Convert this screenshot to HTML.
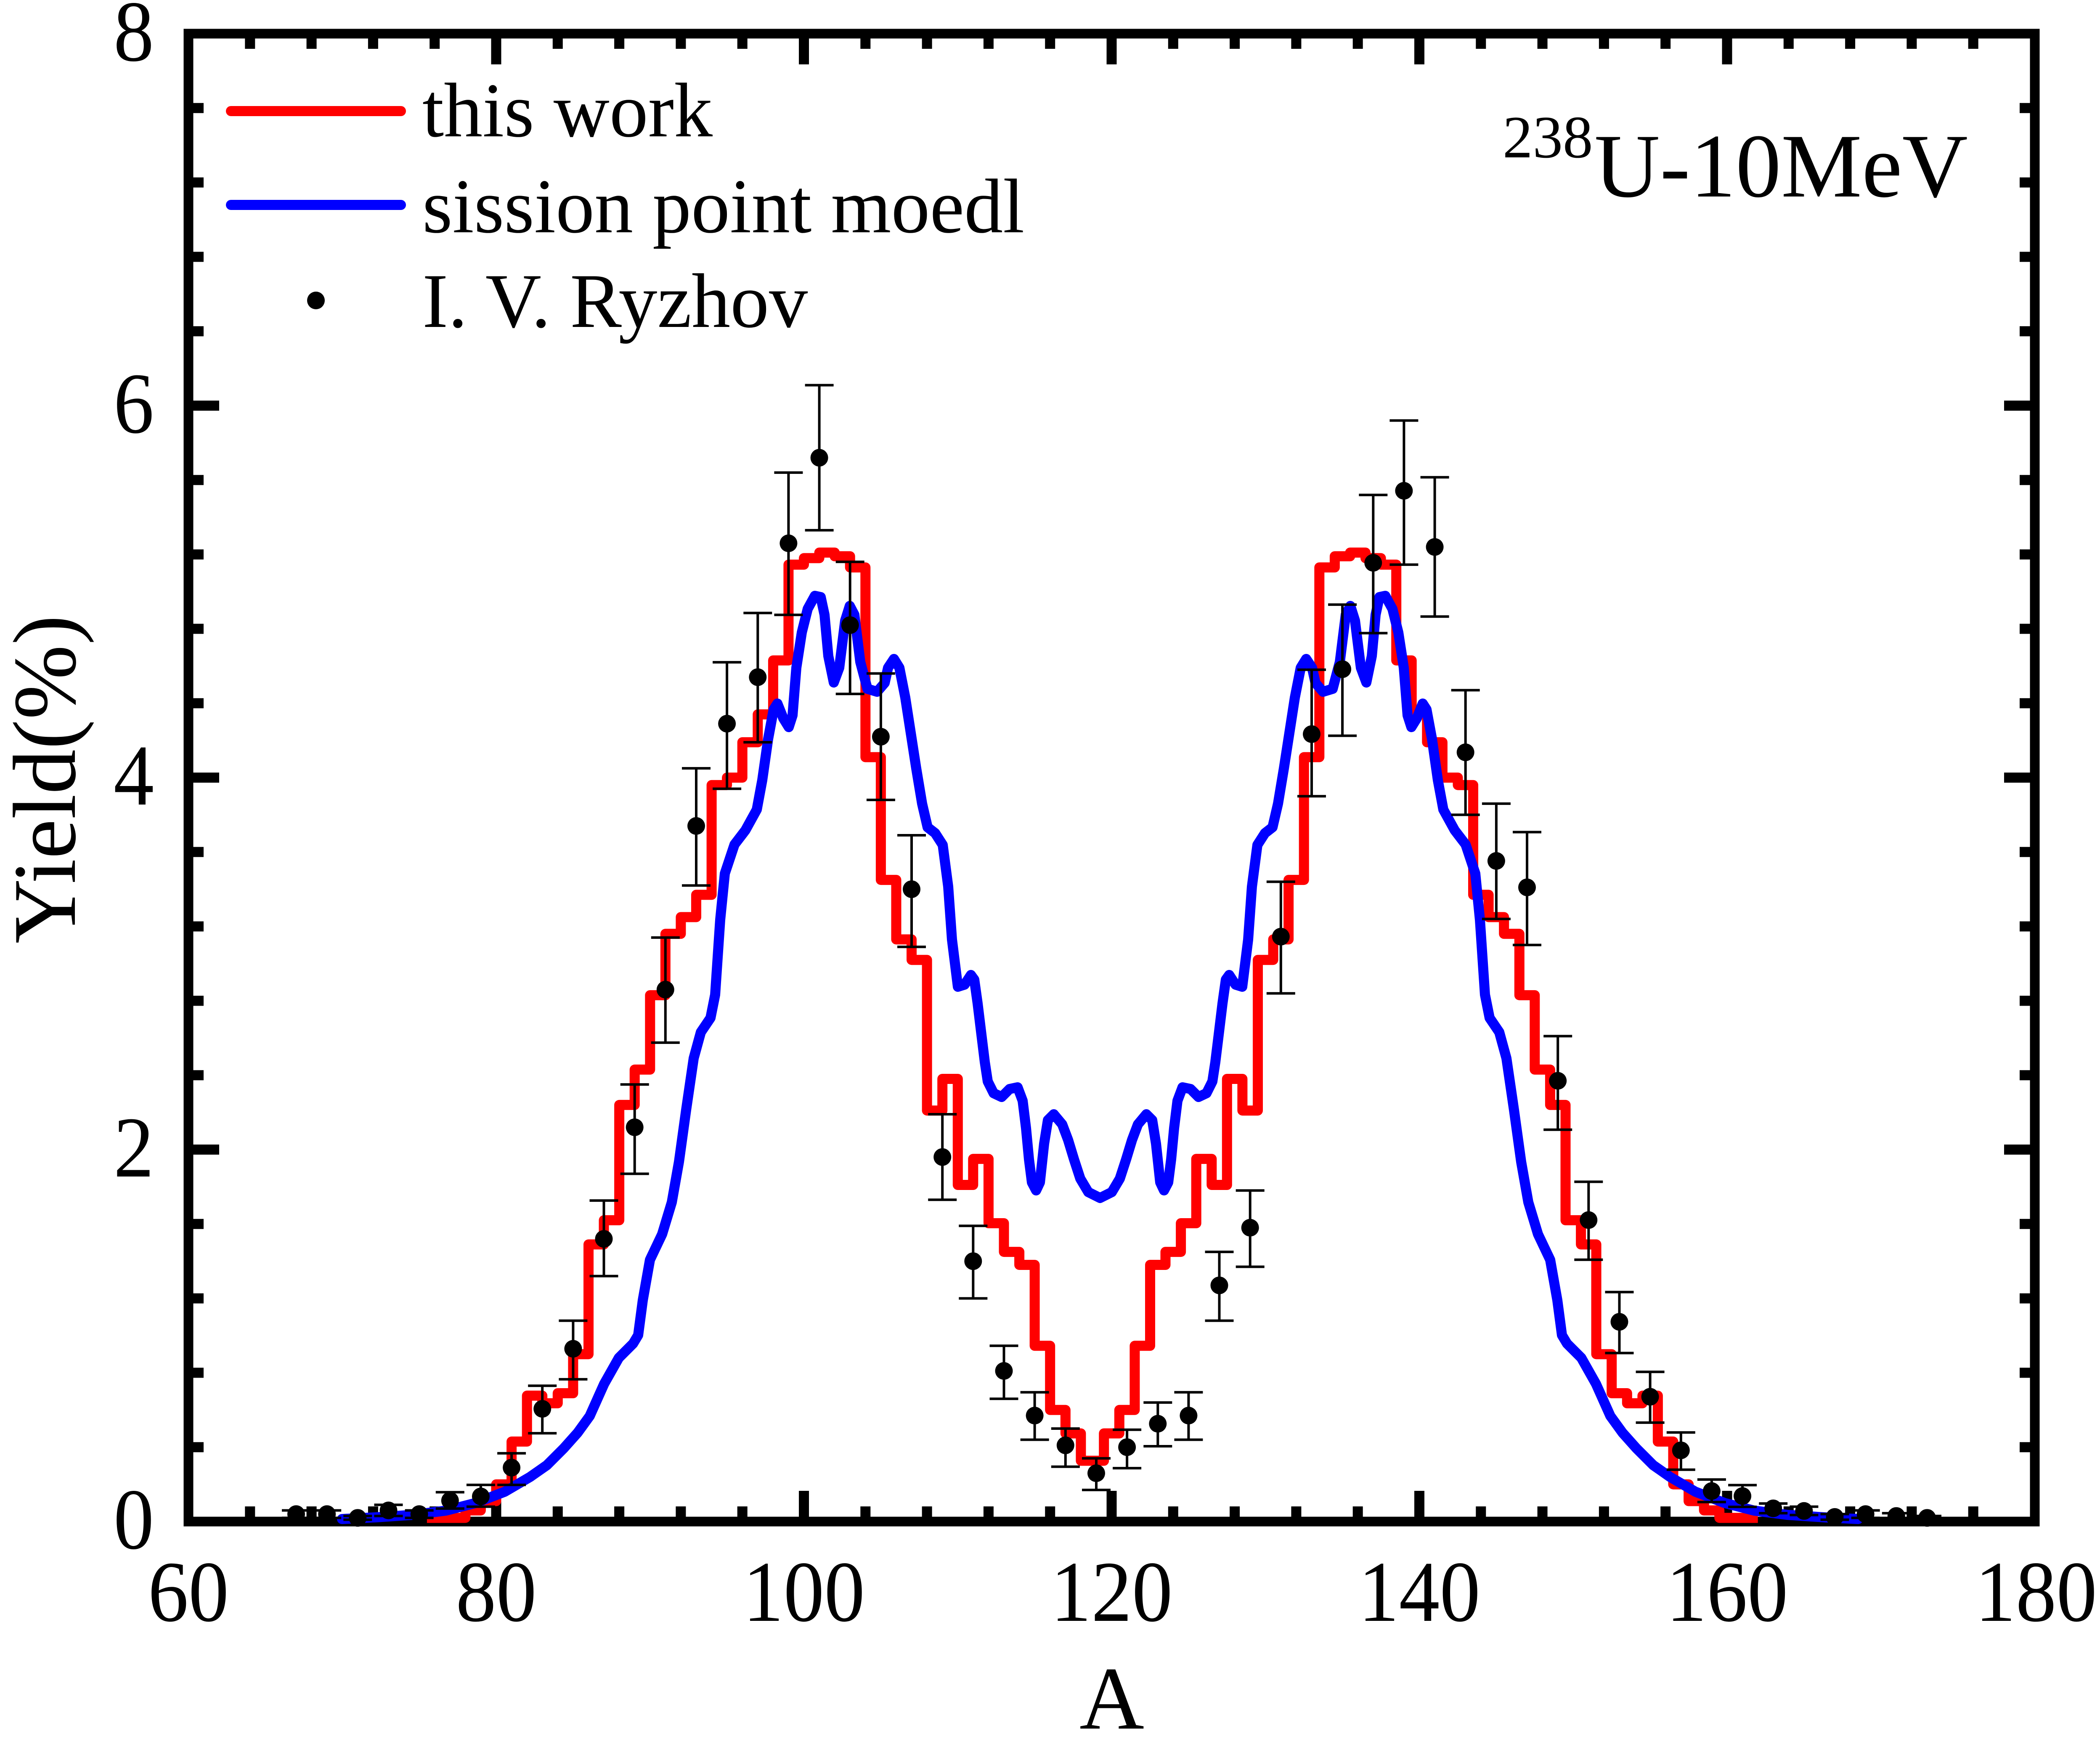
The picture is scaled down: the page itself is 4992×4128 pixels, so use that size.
<!DOCTYPE html>
<html>
<head>
<meta charset="utf-8">
<style>
  html, body { margin: 0; padding: 0; background: #ffffff; }
  svg { display: block; }
  text { font-family: "Liberation Serif", "Times New Roman", serif; fill: #000; }
</style>
</head>
<body>
<svg xmlns="http://www.w3.org/2000/svg" width="4992" height="4128" viewBox="0 0 4992 4128">
  <rect x="0" y="0" width="4992" height="4128" fill="#ffffff"/>

  <rect x="448" y="80" width="4389" height="3536" fill="none" stroke="#000" stroke-width="23"/>

  <path fill="none" stroke="#000" stroke-width="24" d="
    M594.3 3616V3580M740.6 3616V3580M886.9 3616V3580M1033.2 3616V3580M1325.8 3616V3580M1472.1 3616V3580M1618.4 3616V3580M1764.7 3616V3580
    M2057.3 3616V3580M2203.6 3616V3580M2349.9 3616V3580M2496.2 3616V3580M2788.8 3616V3580M2935.1 3616V3580M3081.4 3616V3580M3227.7 3616V3580
    M3520.3 3616V3580M3666.6 3616V3580M3812.9 3616V3580M3959.2 3616V3580M4251.8 3616V3580M4398.1 3616V3580M4544.4 3616V3580M4690.7 3616V3580
    M594.3 80V116M740.6 80V116M886.9 80V116M1033.2 80V116M1325.8 80V116M1472.1 80V116M1618.4 80V116M1764.7 80V116
    M2057.3 80V116M2203.6 80V116M2349.9 80V116M2496.2 80V116M2788.8 80V116M2935.1 80V116M3081.4 80V116M3227.7 80V116
    M3520.3 80V116M3666.6 80V116M3812.9 80V116M3959.2 80V116M4251.8 80V116M4398.1 80V116M4544.4 80V116M4690.7 80V116
    M1179.5 3616V3543M1911 3616V3543M2642.5 3616V3543M3374 3616V3543M4105.5 3616V3543
    M1179.5 80V153M1911 80V153M2642.5 80V153M3374 80V153M4105.5 80V153
    M448 3439.2H484M448 3262.4H484M448 3085.6H484M448 2908.8H484M448 2555.2H484M448 2378.4H484M448 2201.6H484M448 2024.8H484
    M448 1671.2H484M448 1494.4H484M448 1317.6H484M448 1140.8H484M448 787.2H484M448 610.4H484M448 433.6H484M448 256.8H484
    M4837 3439.2H4801M4837 3262.4H4801M4837 3085.6H4801M4837 2908.8H4801M4837 2555.2H4801M4837 2378.4H4801M4837 2201.6H4801M4837 2024.8H4801
    M4837 1671.2H4801M4837 1494.4H4801M4837 1317.6H4801M4837 1140.8H4801M4837 787.2H4801M4837 610.4H4801M4837 433.6H4801M4837 256.8H4801
    M448 2732H521M448 1848H521M448 964H521
    M4837 2732H4764M4837 1848H4764M4837 964H4764
  "/>

  <g font-size="206" text-anchor="end">
    <text x="366" y="3680" textLength="96" lengthAdjust="spacingAndGlyphs">0</text>
    <text x="366" y="2796" textLength="96" lengthAdjust="spacingAndGlyphs">2</text>
    <text x="366" y="1912" textLength="96" lengthAdjust="spacingAndGlyphs">4</text>
    <text x="366" y="1028" textLength="96" lengthAdjust="spacingAndGlyphs">6</text>
    <text x="366" y="144" textLength="96" lengthAdjust="spacingAndGlyphs">8</text>
  </g>

  <g font-size="206" text-anchor="middle">
    <text x="448" y="3852" textLength="192" lengthAdjust="spacingAndGlyphs">60</text>
    <text x="1179.5" y="3852" textLength="192" lengthAdjust="spacingAndGlyphs">80</text>
    <text x="1911" y="3852" textLength="290" lengthAdjust="spacingAndGlyphs">100</text>
    <text x="2642.5" y="3852" textLength="290" lengthAdjust="spacingAndGlyphs">120</text>
    <text x="3374" y="3852" textLength="290" lengthAdjust="spacingAndGlyphs">140</text>
    <text x="4105.5" y="3852" textLength="290" lengthAdjust="spacingAndGlyphs">160</text>
    <text x="4840" y="3852" textLength="290" lengthAdjust="spacingAndGlyphs">180</text>
  </g>

  <text x="2643" y="4108" font-size="213" text-anchor="middle">A</text>
  <text transform="translate(178,1852) rotate(-90)" font-size="213" text-anchor="middle">Yield(%)</text>

  <path fill="none" stroke="#ff0000" stroke-width="24" stroke-linejoin="round" d="
    M1014.9 3607.2H1106.4V3589.5H1142.9V3567.4H1179.5V3527.6H1216.1V3425.9H1252.7V3316.8H1289.2V3334.9H1325.8V3311H1362.4V3218.2
    H1399V2957.4H1435.5V2899.9H1472.1V2625.9H1508.7V2541.9H1545.3V2365.1H1581.8V2219.3H1618.4V2179.5H1655V2126.5H1691.6V1865.7
    H1728.1V1848H1764.7V1764H1801.3V1697.7H1837.9V1569.5H1874.4V1341.9H1911V1326.4H1947.6V1313.2H1984.2V1322H2020.7V1348.5
    H2057.3V1799.4H2093.9V2091.1H2130.5V2232.5H2167V2281.2H2203.6V2639.2H2240.2V2564H2276.8V2816H2313.3V2754.1H2349.9V2907
    H2386.5V2975.1H2423.1V3006H2459.6V3198.3H2496.2V3350.8H2532.8V3406.5H2569.4V3471.5H2624.2
    V3406.5H2660.8V3350.8H2697.4V3198.3H2734V3006H2770.5V2975.1H2807.1V2907H2843.7V2754.1H2880.3V2816H2916.8V2564H2953.4V2639.2
    H2990V2281.2H3026.6V2232.5H3063.1V2091.1H3099.7V1799.4H3136.3V1348.5H3172.9V1322H3209.4V1313.2H3246V1326.4H3282.6V1341.9
    H3319.2V1569.5H3355.7V1697.7H3392.3V1764H3428.9V1848H3465.5V1865.7H3502V2126.5H3538.6V2179.5H3575.2V2219.3H3611.8V2365.1
    H3648.3V2541.9H3684.9V2625.9H3721.5V2899.9H3758.1V2957.4H3794.6V3218.2H3831.2V3311H3867.8V3334.9H3904.4V3316.8H3940.9V3425.9
    H3977.5V3527.6H4014.1V3567.4H4050.7V3589.5H4087.2V3607.2H4178.7
  "/>

  <polyline fill="none" stroke="#0000ff" stroke-width="24" stroke-linejoin="round" stroke-linecap="round" points="
    813,3610 893,3606 982,3600 1060,3590 1130,3572 1200,3545 1260,3510 1300,3482 1340,3442 1373,3405 1402,3365 1436,3289
    1471,3227 1505,3193 1517,3173 1528,3090 1545,2994 1574,2933 1597,2857 1614,2761 1631,2638 1649,2515 1666,2453 1689,2419
    1700,2364 1712,2186 1723,2076 1746,2007 1772,1973 1799,1924 1812,1854 1826,1756 1839,1686 1848,1672 1862,1707 1875,1728
    1884,1700 1893,1587 1906,1503 1920,1447 1937,1416 1951,1419 1960,1461 1969,1559 1982,1622 1995,1587 2009,1475 2020,1440
    2031,1461 2045,1573 2062,1637 2085,1644 2103,1623 2111,1587 2125,1566 2138,1587 2152,1658 2165,1742 2178,1826 2192,1910
    2205,1966 2223,1980 2241,2008 2254,2107 2263,2233 2277,2345 2293,2340 2308,2317 2316,2328 2324,2385 2333,2459 2341,2524
    2348,2570 2362,2598 2381,2607 2400,2588 2419,2584 2431,2616 2439,2681 2446,2755 2453,2810 2463,2829 2472,2810 2482,2718
    2491,2662 2505,2648 2525,2672 2539,2709 2553,2755 2568,2801 2587,2833 2615,2847
    2643,2833 2662,2801 2677,2755 2691,2709 2705,2672 2725,2648 2739,2662 2748,2718 2758,2810 2767,2829 2777,2810 2784,2755
    2791,2681 2799,2616 2811,2584 2830,2588 2849,2607 2868,2598 2882,2570 2889,2524 2897,2459 2906,2385 2914,2328 2922,2317
    2937,2340 2953,2345 2967,2233 2976,2107 2989,2008 3007,1980 3025,1966 3038,1910 3052,1826 3065,1742 3078,1658 3092,1587
    3105,1566 3119,1587 3127,1623 3145,1644 3168,1637 3185,1573 3199,1461 3210,1440 3221,1475 3235,1587 3248,1622 3261,1559
    3270,1461 3279,1419 3293,1416 3310,1447 3324,1503 3337,1587 3346,1700 3355,1728 3368,1707 3382,1672 3391,1686 3404,1756
    3418,1854 3431,1924 3458,1973 3484,2007 3507,2076 3518,2186 3530,2364 3541,2419 3564,2453 3581,2515 3599,2638 3616,2761
    3633,2857 3656,2933 3685,2994 3702,3090 3713,3173 3725,3193 3759,3227 3794,3289 3828,3365 3857,3405 3890,3442 3930,3482
    3970,3510 4030,3545 4100,3572 4170,3590 4248,3600 4337,3606 4417,3610
  "/>

  <path fill="none" stroke="#000" stroke-width="6" d="
    M704 3607.2V3589.5M670 3589.5H738M670 3607.2H738
    M777.2 3607.2V3589.5M743.2 3589.5H811.2M743.2 3607.2H811.2
    M850.3 3611.6V3602.7M816.3 3602.7H884.3M816.3 3611.6H884.3
    M923.5 3602.7V3576.2M889.5 3576.2H957.5M889.5 3602.7H957.5
    M996.6 3607.2V3589.5M962.6 3589.5H1030.6M962.6 3607.2H1030.6
    M1069.8 3585.1V3546.2M1035.8 3546.2H1103.8M1035.8 3585.1H1103.8
    M1142.9 3580.6V3528.9M1108.9 3528.9H1176.9M1108.9 3580.6H1176.9
    M1216.1 3528.9V3453.8M1182.1 3453.8H1250.1M1182.1 3528.9H1250.1
    M1289.2 3406.1V3293.3M1255.2 3293.3H1323.2M1255.2 3406.1H1323.2
    M1362.4 3277.9V3138.6M1328.4 3138.6H1396.4M1328.4 3277.9H1396.4
    M1435.5 3032.6V2853.1M1401.5 2853.1H1469.5M1401.5 3032.6H1469.5
    M1508.7 2789.5V2577.3M1474.7 2577.3H1542.7M1474.7 2789.5H1542.7
    M1581.8 2477.9V2228.1M1547.8 2228.1H1615.8M1547.8 2477.9H1615.8
    M1655 2104.4V1825.9M1621 1825.9H1689M1621 2104.4H1689
    M1728.1 1874.5V1573.9M1694.1 1573.9H1762.1M1694.1 1874.5H1762.1
    M1801.3 1764V1456.8M1767.3 1456.8H1835.3M1767.3 1764H1835.3
    M1874.4 1461.3V1123.1M1840.4 1123.1H1908.4M1840.4 1461.3H1908.4
    M1947.6 1260.1V915.4M1913.6 915.4H1981.6M1913.6 1260.1H1981.6
    M2020.7 1649.1V1335.3M1986.7 1335.3H2054.7M1986.7 1649.1H2054.7
    M2093.9 1901V1600.5M2059.9 1600.5H2127.9M2059.9 1901H2127.9
    M2167 2250.2V1985M2133 1985H2201M2133 2250.2H2201
    M2240.2 2851.3V2648M2206.2 2648H2274.2M2206.2 2851.3H2274.2
    M2313.3 3085.6V2913.2M2279.3 2913.2H2347.3M2279.3 3085.6H2347.3
    M2386.5 3324.3V3198.3M2352.5 3198.3H2420.5M2352.5 3324.3H2420.5
    M2459.6 3421.5V3308.8M2425.6 3308.8H2493.6M2425.6 3421.5H2493.6
    M2532.8 3485.6V3395M2498.8 3395H2566.8M2498.8 3485.6H2566.8
    M2606 3540.9V3465.7M2572 3465.7H2640M2572 3540.9H2640
    M2679.1 3489.1V3397.7M2645.1 3397.7H2713.1M2645.1 3489.1H2713.1
    M2752.3 3437V3333.1M2718.3 3333.1H2786.3M2718.3 3437H2786.3
    M2825.4 3421.5V3308.8M2791.4 3308.8H2859.4M2791.4 3421.5H2859.4
    M2898.5 3138.6V2975.1M2864.5 2975.1H2932.5M2864.5 3138.6H2932.5
    M2971.7 3010.5V2829.2M2937.7 2829.2H3005.7M2937.7 3010.5H3005.7
    M3044.8 2360.7V2095.5M3010.8 2095.5H3078.8M3010.8 2360.7H3078.8
    M3118 1892.2V1591.6M3084 1591.6H3152M3084 1892.2H3152
    M3191.1 1748.5V1436.9M3157.1 1436.9H3225.1M3157.1 1748.5H3225.1
    M3264.3 1504.6V1176.2M3230.3 1176.2H3298.3M3230.3 1504.6H3298.3
    M3337.4 1341.9V999.4M3303.4 999.4H3371.4M3303.4 1341.9H3371.4
    M3410.6 1465.2V1134.2M3376.6 1134.2H3444.6M3376.6 1465.2H3444.6
    M3483.7 1936.4V1640.3M3449.7 1640.3H3517.7M3449.7 1936.4H3517.7
    M3556.9 2183.9V1909.9M3522.9 1909.9H3590.9M3522.9 2183.9H3590.9
    M3630 2245.8V1977.5M3596 1977.5H3664M3596 2245.8H3664
    M3703.2 2684.7V2462.4M3669.2 2462.4H3737.2M3669.2 2684.7H3737.2
    M3776.3 2993.7V2808.5M3742.3 2808.5H3810.3M3742.3 2993.7H3810.3
    M3849.5 3215.5V3070.6M3815.5 3070.6H3883.5M3815.5 3215.5H3883.5
    M3922.6 3380.9V3260.2M3888.6 3260.2H3956.6M3888.6 3380.9H3956.6
    M3995.8 3492.7V3404.3M3961.8 3404.3H4029.8M3961.8 3492.7H4029.8
    M4068.9 3569.6V3516.1M4034.9 3516.1H4102.9M4034.9 3569.6H4102.9
    M4142.1 3581.1V3529.4M4108.1 3529.4H4176.1M4108.1 3581.1H4176.1
    M4215.2 3596.1V3573.1M4181.2 3573.1H4249.2M4181.2 3596.1H4249.2
    M4288.4 3600.5V3580.6M4254.4 3580.6H4322.4M4254.4 3600.5H4322.4
    M4361.5 3611.6V3598.3M4327.5 3598.3H4395.5M4327.5 3611.6H4395.5
    M4434.7 3607.2V3589.5M4400.7 3589.5H4468.7M4400.7 3607.2H4468.7
    M4507.8 3609.4V3596.1M4473.8 3596.1H4541.8M4473.8 3609.4H4541.8
    M4581 3611.6V3602.7M4547 3602.7H4615M4547 3611.6H4615
  "/>

  <g fill="#000">
    <circle cx="704" cy="3598.3" r="21"/>
    <circle cx="777.2" cy="3598.3" r="21"/>
    <circle cx="850.3" cy="3607.2" r="21"/>
    <circle cx="923.5" cy="3589.5" r="21"/>
    <circle cx="996.6" cy="3598.3" r="21"/>
    <circle cx="1069.8" cy="3566.1" r="21"/>
    <circle cx="1142.9" cy="3556.3" r="21"/>
    <circle cx="1216.1" cy="3487.8" r="21"/>
    <circle cx="1289.2" cy="3348.1" r="21"/>
    <circle cx="1362.4" cy="3205.4" r="21"/>
    <circle cx="1435.5" cy="2944.2" r="21"/>
    <circle cx="1508.7" cy="2679" r="21"/>
    <circle cx="1581.8" cy="2351.9" r="21"/>
    <circle cx="1655" cy="1962.9" r="21"/>
    <circle cx="1728.1" cy="1719.8" r="21"/>
    <circle cx="1801.3" cy="1609.3" r="21"/>
    <circle cx="1874.4" cy="1291.1" r="21"/>
    <circle cx="1947.6" cy="1087.8" r="21"/>
    <circle cx="2020.7" cy="1485.6" r="21"/>
    <circle cx="2093.9" cy="1750.8" r="21"/>
    <circle cx="2167" cy="2113.2" r="21"/>
    <circle cx="2240.2" cy="2749.7" r="21"/>
    <circle cx="2313.3" cy="2997.2" r="21"/>
    <circle cx="2386.5" cy="3258" r="21"/>
    <circle cx="2459.6" cy="3364.1" r="21"/>
    <circle cx="2532.8" cy="3434.8" r="21"/>
    <circle cx="2606" cy="3501.1" r="21"/>
    <circle cx="2679.1" cy="3439.2" r="21"/>
    <circle cx="2752.3" cy="3383.5" r="21"/>
    <circle cx="2825.4" cy="3364.1" r="21"/>
    <circle cx="2898.5" cy="3054.7" r="21"/>
    <circle cx="2971.7" cy="2917.6" r="21"/>
    <circle cx="3044.8" cy="2225.9" r="21"/>
    <circle cx="3118" cy="1744.6" r="21"/>
    <circle cx="3191.1" cy="1590.3" r="21"/>
    <circle cx="3264.3" cy="1337.5" r="21"/>
    <circle cx="3337.4" cy="1166.4" r="21"/>
    <circle cx="3410.6" cy="1299.9" r="21"/>
    <circle cx="3483.7" cy="1787.9" r="21"/>
    <circle cx="3556.9" cy="2046" r="21"/>
    <circle cx="3630" cy="2108.8" r="21"/>
    <circle cx="3703.2" cy="2568.5" r="21"/>
    <circle cx="3776.3" cy="2899.5" r="21"/>
    <circle cx="3849.5" cy="3141.3" r="21"/>
    <circle cx="3922.6" cy="3319.4" r="21"/>
    <circle cx="3995.8" cy="3446.7" r="21"/>
    <circle cx="4068.9" cy="3543.5" r="21"/>
    <circle cx="4142.1" cy="3555.4" r="21"/>
    <circle cx="4215.2" cy="3584.6" r="21"/>
    <circle cx="4288.4" cy="3590.8" r="21"/>
    <circle cx="4361.5" cy="3605" r="21"/>
    <circle cx="4434.7" cy="3598.3" r="21"/>
    <circle cx="4507.8" cy="3602.7" r="21"/>
    <circle cx="4581" cy="3607.2" r="21"/>
  </g>

  <line x1="549" y1="264" x2="953" y2="264" stroke="#ff0000" stroke-width="24" stroke-linecap="round"/>
  <line x1="549" y1="487" x2="953" y2="487" stroke="#0000ff" stroke-width="24" stroke-linecap="round"/>
  <circle cx="751" cy="714" r="21" fill="#000"/>
  <g font-size="184">
    <text x="1004" y="324">this work</text>
    <text x="1004" y="552">sission point moedl</text>
    <text x="1004" y="777">I. V. Ryzhov</text>
  </g>

  <text x="3572" y="374" font-size="143">238</text>
  <text x="3790" y="467" font-size="216">U-10MeV</text>
</svg>
</body>
</html>
